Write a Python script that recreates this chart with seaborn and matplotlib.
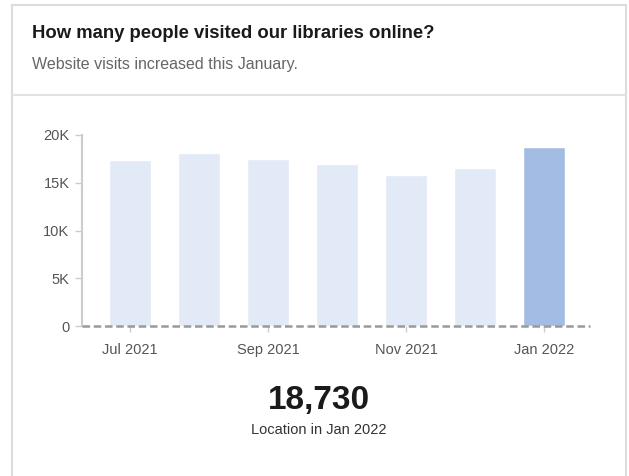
import matplotlib
matplotlib.use("Agg")
import matplotlib.pyplot as plt
from matplotlib.lines import Line2D
import seaborn as sns
import pandas as pd

months = ["Jul 2021", "Aug 2021", "Sep 2021", "Oct 2021", "Nov 2021", "Dec 2021", "Jan 2022"]
visits = [17400, 18100, 17500, 16950, 15800, 16500, 18730]
bar_colors = ["#e3eaf7", "#e3eaf7", "#e3eaf7", "#e3eaf7", "#e3eaf7", "#e3eaf7", "#a3bce3"]
tick_months = ["Jul 2021", "Sep 2021", "Nov 2021", "Jan 2022"]
y_ticks = [0, 5000, 10000, 15000, 20000]
y_labels = ["0", "5K", "10K", "15K", "20K"]
title = "How many people visited our libraries online?"
subtitle = "Website visits increased this January."
big_value = "18,730"
big_caption = "Location in Jan 2022"

sns.set_theme(style="white")
plt.rcParams["font.family"] = ["Liberation Sans", "DejaVu Sans"]

W, H = 629, 476
fig = plt.figure(figsize=(W / 100, H / 100), dpi=100)
fig.patch.set_facecolor("white")

def fx(px):
    return px / W

def fy(py):
    return 1 - py / H

# card border
border = "#dcdcdc"
fig.add_artist(Line2D([fx(12), fx(12)], [fy(5), fy(H + 5)], color=border, lw=1.5, transform=fig.transFigure))
fig.add_artist(Line2D([fx(626), fx(626)], [fy(5), fy(H + 5)], color=border, lw=1.5, transform=fig.transFigure))
fig.add_artist(Line2D([fx(12), fx(626)], [fy(5), fy(5)], color=border, lw=1.5, transform=fig.transFigure))
fig.add_artist(Line2D([fx(12), fx(626)], [fy(95), fy(95)], color="#e2e2e6", lw=1.5, transform=fig.transFigure))

fig.text(fx(32), fy(34), title, fontsize=13.3, fontweight="bold", color="#1a1a1a", va="center", ha="left")
fig.text(fx(32), fy(65), subtitle, fontsize=11.5, color="#666666", va="center", ha="left")

ax = fig.add_axes([fx(82), fy(326), fx(590) - fx(82), fy(135) - fy(326)])
df = pd.DataFrame({"month": months, "visits": visits})
sns.barplot(data=df, x="month", y="visits", hue="month", palette=bar_colors,
            legend=False, width=0.61, ax=ax, saturation=1)

ax.set_ylim(0, 20000)
ax.set_xlim(-0.696, 6.667)
ax.set_xlabel("")
ax.set_ylabel("")
ax.set_yticks(y_ticks)
ax.set_yticklabels(y_labels)
ax.set_xticks([months.index(m) for m in tick_months])
ax.set_xticklabels(tick_months)
ax.tick_params(axis="y", length=5, width=1, color="#cccccc", labelsize=10.5, labelcolor="#555555", pad=4, left=True)
ax.tick_params(axis="x", length=4, width=1, color="#cccccc", labelsize=10.5, labelcolor="#555555", pad=8, bottom=True)

for s in ["top", "right", "bottom"]:
    ax.spines[s].set_visible(False)
ax.spines["left"].set_color("#cccccc")
ax.spines["left"].set_linewidth(1.5)
ax.axhline(0, color="#999999", lw=1.8, ls=(0, (3, 1.5)), clip_on=False, zorder=5)
ax.set_facecolor("white")

fig.text(fx(319), fy(400), big_value, fontsize=24, fontweight="bold", color="#1a1a1a", ha="center", va="center")
fig.text(fx(319), fy(430), big_caption, fontsize=10.5, color="#333333", ha="center", va="center")

fig.savefig("out.png", dpi=100, facecolor="white")
